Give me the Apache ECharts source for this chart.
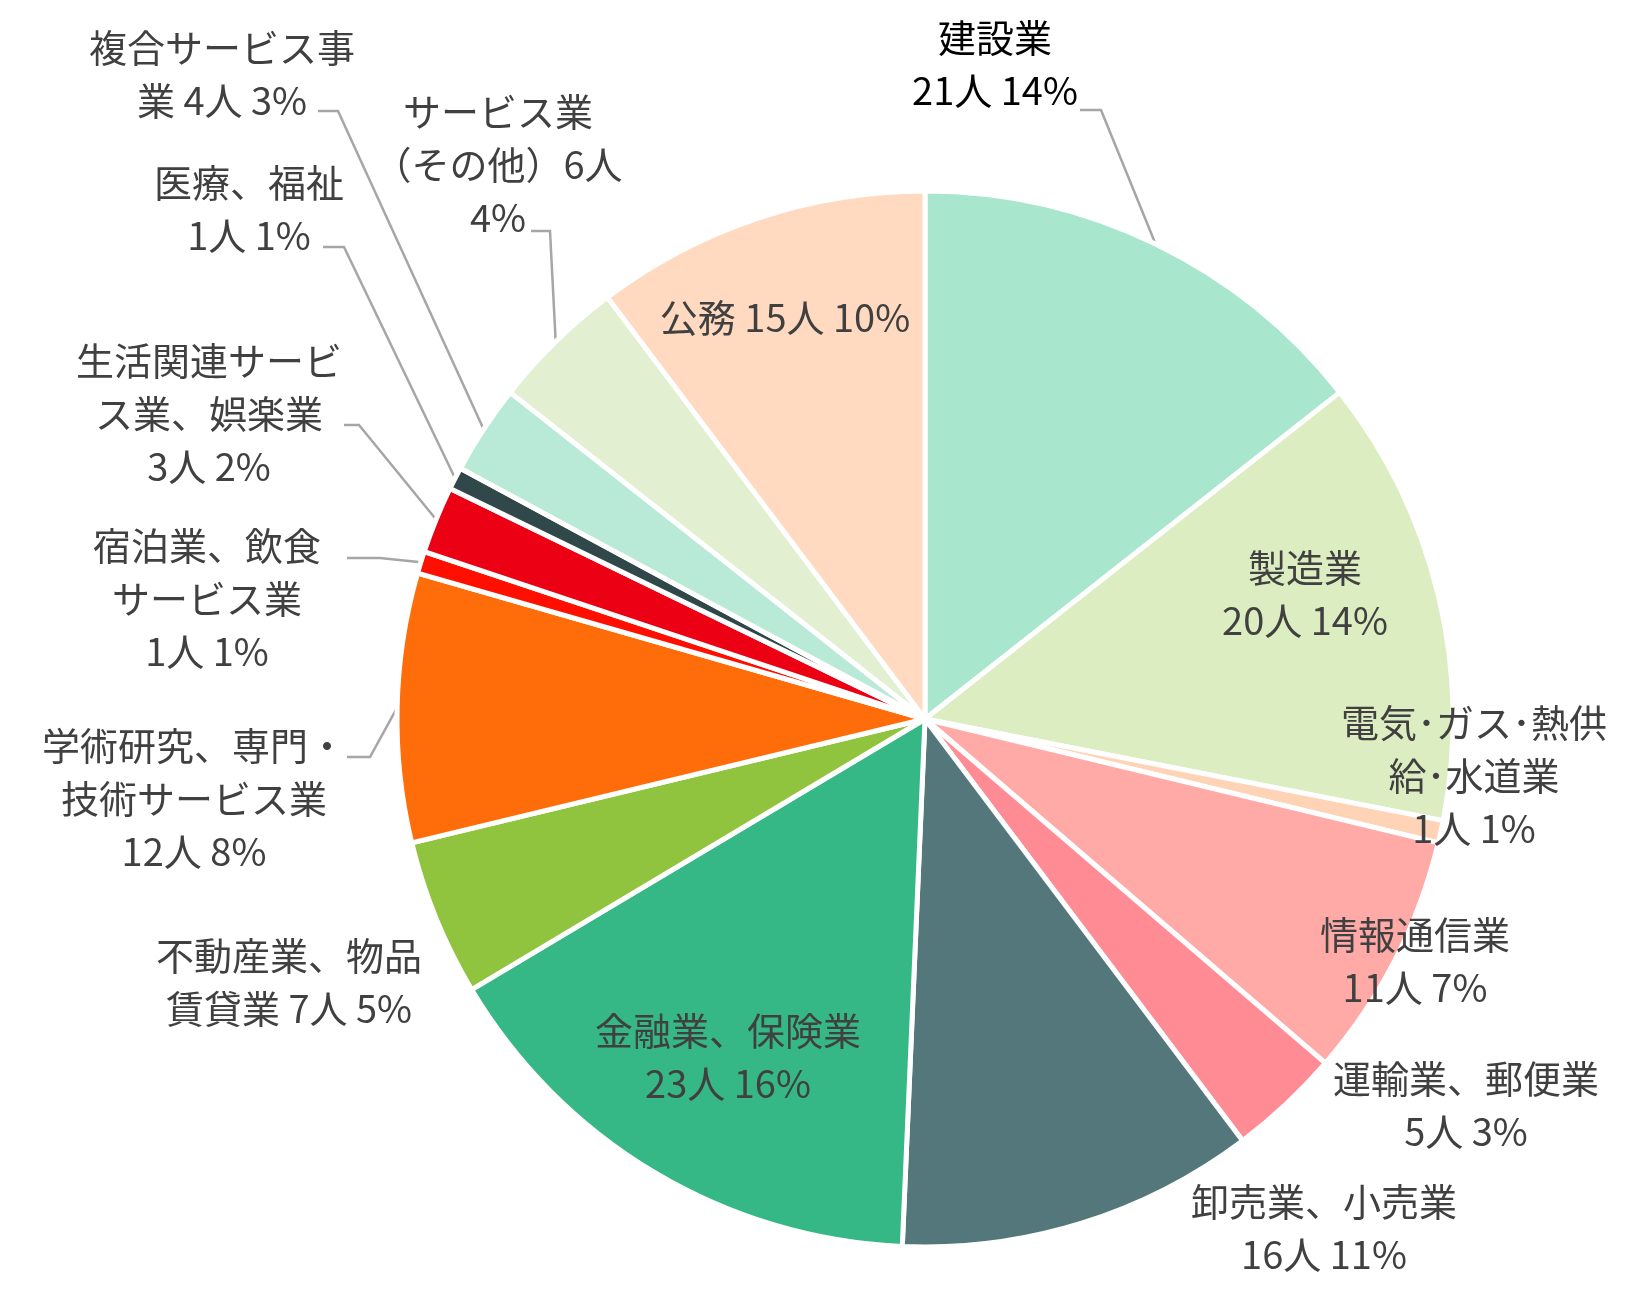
<!DOCTYPE html>
<html>
<head>
<meta charset="utf-8">
<script src="https://cdn.jsdelivr.net/npm/echarts@6/dist/echarts.min.js"></script>
<style>
html,body{margin:0;padding:0;background:#fff;}
#chart{width:1633px;height:1290px;}
</style>
</head>
<body>
<div id="chart"></div>
<script>
// ---- data ----
const categories = ['建設業','製造業','電気･ガス･熱供給･水道業','情報通信業','運輸業、郵便業','卸売業、小売業','金融業、保険業','不動産業、物品賃貸業','学術研究、専門・技術サービス業','宿泊業、飲食サービス業','生活関連サービス業、娯楽業','医療、福祉','複合サービス事業','サービス業（その他）','公務'];
const values = [21, 20, 1, 11, 5, 16, 23, 7, 12, 1, 3, 1, 4, 6, 15];
const percents = [14, 14, 1, 7, 3, 11, 16, 5, 8, 1, 2, 1, 3, 4, 10];
const colors = ['#A8E6CE','#DCEDC2','#FFD3B5','#FFAAA6','#FF8C94','#54777B','#36B886','#91C43E','#FF6C0A','#FF0F00','#EB0014','#31484B','#B9E9D7','#E2EFD0','#FFDAC1'];

// ---- layout (label placement / wrapping) ----
const CX = 925, CY = 719, R = 528;
const layouts = [
  {t:'建設業\n{v}人 {p}%', x:995, y:64, line:[1080,1101,110], color:'#000000'},
  {t:'製造業\n{v}人 {p}%', x:1305, y:594},
  {t:'電気･ガス･熱供\n給･水道業\n{v}人 {p}%', x:1474, y:776},
  {t:'情報通信業\n{v}人 {p}%', x:1415, y:961},
  {t:'運輸業、郵便業\n{v}人 {p}%', x:1466, y:1105},
  {t:'卸売業、小売業\n{v}人 {p}%', x:1324, y:1228},
  {t:'金融業、保険業\n{v}人 {p}%', x:728, y:1057},
  {t:'不動産業、物品\n賃貸業 {v}人 {p}%', x:289, y:982},
  {t:'学術研究、専門・\n技術サービス業\n{v}人 {p}%', x:194, y:799, line:[347,370,757]},
  {t:'宿泊業、飲食\nサービス業\n{v}人 {p}%', x:207, y:599, line:[347,380,558]},
  {t:'生活関連サービ\nス業、娯楽業\n{v}人 {p}%', x:209, y:414, line:[344,359,425]},
  {t:'医療、福祉\n{v}人 {p}%', x:249, y:209, line:[323,344,247]},
  {t:'複合サービス事\n業 {v}人 {p}%', x:222, y:74, line:[318,338,111]},
  {t:'サービス業\n（その他）{v}人\n{p}%', x:498, y:165, line:[531,550,231]},
  {t:'公務 {v}人 {p}%', x:785, y:318}
];

const total = values.reduce((a, b) => a + b, 0);
function edgePoint(i) {
  let cum = 0;
  for (let k = 0; k < i; k++) cum += values[k];
  const mid = (cum + values[i] / 2) / total * 2 * Math.PI; // clockwise from top
  return [CX + R * Math.sin(mid), CY - R * Math.cos(mid)];
}

const chart = echarts.init(document.getElementById('chart'), null, {renderer: 'canvas'});
chart.setOption({
  animation: false,
  backgroundColor: '#ffffff',
  series: [{
    type: 'pie',
    center: [CX, CY],
    radius: R,
    startAngle: 90,
    clockwise: true,
    avoidLabelOverlap: false,
    itemStyle: {borderColor: '#ffffff', borderWidth: 5},
    emphasis: {disabled: true},
    label: {
      show: true,
      position: 'outside',
      fontFamily: '"Noto Sans CJK JP", "Noto Sans", sans-serif',
      fontSize: 38,
      lineHeight: 53,
      color: '#404040',
      formatter: function (p) {
        const i = p.dataIndex;
        return layouts[i].t.replace('{v}', values[i]).replace('{p}', percents[i]);
      }
    },
    labelLine: {show: true, length: 10, length2: 10, lineStyle: {color: '#A6A6A6', width: 2.5}},
    labelLayout: function (params) {
      const i = params.dataIndex;
      const L = layouts[i];
      const out = {x: L.x, y: L.y, align: 'center', verticalAlign: 'middle'};
      if (L.line) {
        out.labelLinePoints = [edgePoint(i), [L.line[1], L.line[2]], [L.line[0], L.line[2]]];
      }
      return out;
    },
    data: categories.map((c, i) => ({
      name: c,
      value: values[i],
      itemStyle: {color: colors[i]},
      label: layouts[i].color ? {color: layouts[i].color} : {},
      labelLine: {show: !!layouts[i].line}
    }))
  }]
});
</script>
</body>
</html>
